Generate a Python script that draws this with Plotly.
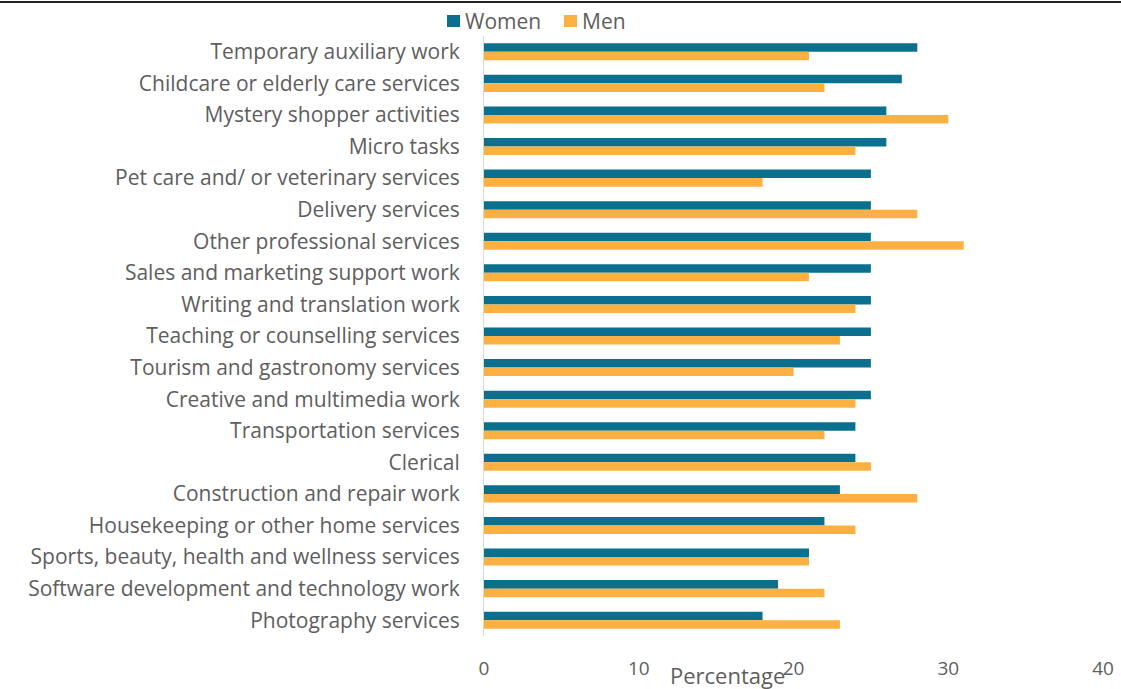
import plotly.graph_objects as go

# Share of platform workers by type of activity, by gender (%)
categories = [
    "Temporary auxiliary work",
    "Childcare or elderly care services",
    "Mystery shopper activities",
    "Micro tasks",
    "Pet care and/ or veterinary services",
    "Delivery services",
    "Other professional services",
    "Sales and marketing support work",
    "Writing and translation work",
    "Teaching or counselling services",
    "Tourism and gastronomy services",
    "Creative and multimedia work",
    "Transportation services",
    "Clerical",
    "Construction and repair work",
    "Housekeeping or other home services",
    "Sports, beauty, health and wellness services",
    "Software development and technology work",
    "Photography services",
]
women = [28, 27, 26, 26, 25, 25, 25, 25, 25, 25, 25, 25, 24, 24, 23, 22, 21, 19, 18]
men = [21, 22, 30, 24, 18, 28, 31, 21, 24, 23, 20, 24, 22, 25, 28, 24, 21, 22, 23]
x_ticks = [0, 10, 20, 30, 40]

series = [("Women", women, "#0a708e"), ("Men", men, "#fcb042")]

W, H = 1121, 689
L, R, T, B = 484, 18, 36, 53
plot_w = W - L - R
plot_h = H - T - B

FONT = "Open Sans"
GREY = "#5e5e5e"


def px(x):
    return (x - L) / plot_w


def py(y):
    return 1 - (y - T) / plot_h


fig = go.Figure()
for name, vals, color in series:
    fig.add_trace(go.Bar(y=categories, x=vals, name=name, orientation="h",
                         marker=dict(color=color, line=dict(width=0))))

# Legend drawn as small squares with text beside them
legend_items = [("Women", "#0a708e", 447), ("Men", "#fcb042", 564)]
shapes = [dict(type="line", xref="paper", yref="paper",
               x0=px(0), x1=px(W), y0=py(2), y1=py(2),
               line=dict(color="#222222", width=2))]
annotations = []
for name, color, x0 in legend_items:
    shapes.append(dict(type="rect", xref="paper", yref="paper",
                       x0=px(x0), x1=px(x0 + 13), y0=py(27), y1=py(15),
                       fillcolor=color, line=dict(width=0)))
    annotations.append(dict(text=name, xref="paper", yref="paper",
                            x=px(x0 + 16), y=py(21), xanchor="left",
                            yanchor="middle", showarrow=False,
                            font=dict(size=21, color=GREY)))

annotations.append(dict(text="Percentage", xref="paper", yref="paper",
                        x=px(727), y=py(675), xanchor="center",
                        yanchor="middle", showarrow=False,
                        font=dict(size=22, color=GREY)))

fig.update_layout(
    width=W, height=H,
    margin=dict(l=L, r=R, t=T, b=B, autoexpand=False),
    paper_bgcolor="white", plot_bgcolor="white",
    barmode="group", bargap=0.46, bargroupgap=0,
    showlegend=False,
    font=dict(family=FONT, color=GREY, size=17),
    xaxis=dict(range=[0, 40], tickvals=x_ticks, showgrid=False, zeroline=False,
               showline=False, ticks="", ticklabelstandoff=19,
               tickfont=dict(size=19, color=GREY)),
    yaxis=dict(autorange="reversed", showgrid=False, zeroline=False,
               showline=True, linecolor="#d9d9d9", linewidth=1, ticks="",
               ticklabelstandoff=19, tickfont=dict(size=21, color=GREY)),
    annotations=annotations,
    shapes=shapes,
)

fig.write_html("out.html")
